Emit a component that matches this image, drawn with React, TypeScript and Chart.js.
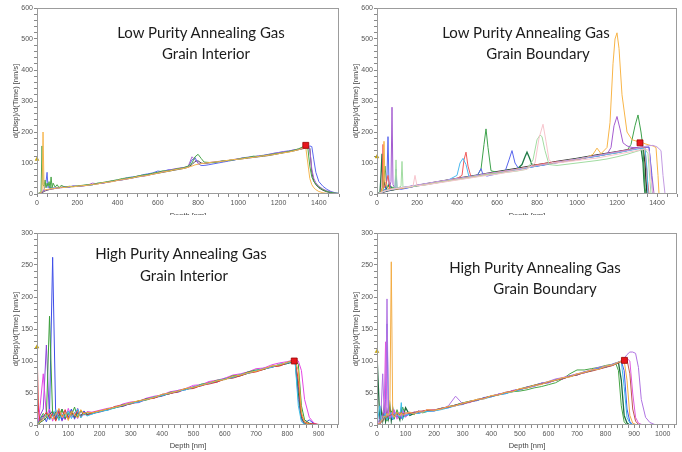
import React, { useEffect, useRef } from "react";
import { Chart, registerables } from "chart.js";

Chart.register(...registerables);

// ================= Panel 1: Low Purity Annealing Gas, Grain Interior =================
const LPGI_DEPTH = [0, 10, 20, 25, 30, 35, 40, 45, 50, 55, 60, 65, 70, 75, 80,
  90, 100, 110, 120, 140, 160, 180,
  200, 225, 250, 275, 300, 325, 350, 375, 400, 425, 450, 475, 500, 525, 550, 575, 600, 625, 650, 675, 700, 725, 750,
  770, 785, 800, 815, 830,
  850, 875, 900, 925, 950, 975, 1000, 1025, 1050, 1075, 1100, 1125, 1150, 1175, 1200, 1225, 1250, 1275, 1300,
  1320, 1335, 1345, 1355, 1365, 1375, 1385, 1400, 1420, 1440, 1460, 1480, 1500];
const LPGI_ORANGE = [0, 2, 5, 8, 200, 20, 12, 15, 14, 16, 15, 17, 16, 18, 17,
  18, 20, 19, 22, 21, 24, 23,
  25, 27, 28, 31, 32, 36, 38, 40, 44, 47, 49, 52, 56, 58, 60, 64, 67, 71, 73, 77, 80, 82, 86,
  90, 94, 96, 98, 99,
  101, 103, 104, 106, 109, 111, 112, 114, 117, 118, 121, 123, 125, 127, 130, 133, 135, 139, 143,
  147, 150, 100, 50, 30, 20, 14, 8, 4, 2, 1, 0, 0];
const LPGI_GREEN = [0, 3, 6, 155, 30, 25, 45, 20, 35, 25, 40, 18, 55, 20, 35,
  22, 30, 20, 28, 22, 25, 24,
  26, 28, 30, 30, 35, 37, 40, 43, 46, 50, 52, 54, 58, 61, 63, 67, 70, 75, 74, 78, 82, 84, 90,
  100, 120, 128, 115, 103,
  102, 101, 104, 107, 108, 110, 113, 116, 118, 122, 121, 124, 126, 129, 131, 134, 137, 141, 146,
  152, 155, 150, 90, 55, 40, 32, 22, 14, 8, 5, 3, 2];
const LPGI_BLUE = [0, 2, 4, 6, 10, 15, 25, 40, 70, 20, 25, 18, 22, 17, 20,
  19, 21, 20, 22, 24, 22, 26,
  24, 27, 29, 30, 34, 35, 39, 42, 45, 48, 53, 55, 57, 62, 65, 68, 74, 72, 78, 79, 81, 85, 87,
  110, 118, 98, 92, 92,
  94, 97, 100, 103, 106, 109, 113, 117, 119, 120, 123, 125, 128, 131, 134, 137, 139, 142, 144,
  147, 148, 150, 155, 153, 110, 70, 40, 25, 15, 8, 4, 2];
const LPGI_PURPLE = [0, 1, 3, 5, 8, 12, 10, 14, 12, 15, 14, 16, 15, 17, 16,
  18, 19, 20, 20, 22, 23, 26,
  25, 26, 28, 35, 33, 35, 38, 41, 44, 46, 49, 52, 58, 57, 60, 65, 68, 72, 76, 80, 83, 85, 88,
  120, 110, 100, 98, 99,
  101, 103, 105, 107, 108, 111, 114, 116, 118, 120, 122, 124, 127, 131, 133, 136, 138, 142, 145,
  148, 150, 152, 145, 80, 50, 36, 25, 16, 10, 6, 3, 1];
const LPGI_DARK = [0, 1, 2, 4, 6, 8, 10, 11, 12, 13, 14, 15, 15, 16, 17,
  18, 19, 20, 21, 22, 23, 24,
  25, 26, 28, 30, 33, 35, 38, 41, 44, 46, 49, 52, 55, 58, 61, 64, 67, 70, 73, 76, 79, 82, 86,
  95, 105, 107, 100, 98,
  100, 102, 104, 106, 108, 110, 112, 114, 116, 118, 120, 122, 124, 127, 130, 133, 136, 139, 143,
  146, 148, 149, 148, 70, 42, 30, 20, 12, 7, 4, 2, 1];
const LPGI_X_LABELS = [0, 200, 400, 600, 800, 1000, 1200, 1400];
const LPGI_Y_LABELS = [0, 100, 200, 300, 400, 500, 600];
const LPGI_END_MARK = [1335, 157];
const LPGI_START_MARK = [0, 112];

// ================= Panel 2: Low Purity Annealing Gas, Grain Boundary =================
const LPGB_BLACK_DEPTH = [0, 20, 40, 60, 100, 200, 300, 400, 500, 600, 700, 800, 900, 1000, 1100, 1200, 1300, 1320, 1330, 1340, 1345, 1350];
const LPGB_BLACK_RATE = [0, 4, 8, 11, 16, 28, 39, 50, 61, 72, 83, 94, 105, 115, 126, 137, 148, 150, 150, 100, 40, 0];
const LPGB_DKGREEN_DEPTH = [0, 15, 20, 25, 30, 35, 45, 60, 80, 100, 150, 200, 250, 300, 350, 400, 450, 500, 550, 600, 650, 700, 725, 740, 750, 760, 775, 800, 850, 900, 950, 1000, 1050, 1100, 1150, 1200, 1250, 1300, 1320, 1330, 1335, 1340];
const LPGB_DKGREEN_RATE = [0, 5, 60, 130, 20, 40, 15, 30, 14, 18, 22, 27, 33, 38, 44, 49, 54, 60, 63, 70, 76, 80, 95, 120, 135, 120, 95, 92, 97, 103, 108, 113, 119, 124, 130, 135, 141, 147, 149, 100, 40, 0];
const LPGB_GREEN_DEPTH = [0, 30, 40, 50, 60, 100, 150, 200, 250, 300, 350, 400, 450, 500, 520, 535, 545, 555, 570, 600, 650, 700, 750, 800, 850, 900, 950, 1000, 1050, 1100, 1150, 1200, 1250, 1270, 1290, 1305, 1320, 1330, 1335, 1340, 1345];
const LPGB_GREEN_RATE = [0, 10, 90, 20, 25, 17, 21, 26, 31, 37, 42, 48, 52, 58, 80, 160, 210, 150, 75, 70, 75, 80, 86, 91, 97, 102, 108, 112, 118, 122, 128, 133, 140, 160, 220, 255, 200, 150, 80, 20, 0];
const LPGB_ORANGE_DEPTH = [0, 20, 30, 35, 40, 50, 60, 80, 100, 150, 200, 250, 300, 350, 400, 450, 500, 550, 600, 650, 700, 750, 800, 850, 900, 950, 1000, 1050, 1080, 1100, 1120, 1150, 1165, 1180, 1190, 1200, 1210, 1225, 1250, 1275, 1300, 1320, 1340, 1360, 1380, 1395, 1405, 1410];
const LPGB_ORANGE_RATE = [0, 3, 20, 170, 40, 25, 15, 18, 16, 21, 27, 32, 37, 42, 48, 53, 58, 64, 69, 74, 80, 86, 92, 97, 102, 107, 112, 118, 128, 148, 130, 150, 230, 420, 500, 520, 470, 320, 200, 175, 170, 168, 162, 158, 155, 150, 60, 0];
const LPGB_PURPLE_DEPTH = [0, 20, 40, 60, 70, 75, 80, 90, 120, 150, 200, 250, 300, 350, 400, 450, 500, 550, 600, 650, 700, 750, 800, 850, 900, 950, 1000, 1050, 1100, 1150, 1170, 1185, 1200, 1215, 1230, 1250, 1275, 1300, 1330, 1360, 1375, 1385];
const LPGB_PURPLE_RATE = [0, 4, 10, 15, 40, 280, 30, 18, 20, 20, 26, 31, 36, 42, 47, 52, 57, 63, 68, 73, 79, 85, 90, 96, 101, 106, 111, 117, 122, 128, 150, 220, 250, 210, 165, 155, 150, 150, 152, 150, 60, 0];
const LPGB_LAVENDER_DEPTH = [0, 50, 100, 200, 300, 400, 500, 550, 600, 650, 700, 800, 900, 1000, 1100, 1200, 1250, 1300, 1350, 1380, 1400, 1420, 1430, 1440];
const LPGB_LAVENDER_RATE = [0, 12, 18, 29, 40, 50, 60, 66, 70, 75, 80, 92, 103, 113, 124, 135, 140, 147, 155, 157, 152, 140, 60, 0];
const LPGB_LTGREEN_DEPTH = [0, 30, 60, 90, 95, 100, 120, 125, 130, 160, 200, 250, 300, 350, 400, 450, 500, 550, 600, 650, 700, 750, 780, 800, 815, 825, 840, 860, 900, 950, 1000, 1050, 1100, 1150, 1200, 1250, 1300, 1340, 1355, 1365, 1370];
const LPGB_LTGREEN_RATE = [0, 8, 14, 20, 110, 18, 25, 105, 20, 22, 26, 30, 36, 41, 46, 51, 56, 62, 66, 70, 74, 80, 110, 175, 190, 185, 140, 95, 92, 96, 100, 104, 108, 113, 120, 128, 138, 145, 130, 40, 0];
const LPGB_PINK_DEPTH = [0, 40, 80, 120, 180, 190, 200, 250, 300, 350, 400, 450, 500, 550, 600, 650, 700, 750, 790, 810, 830, 845, 860, 880, 900, 950, 1000, 1050, 1100, 1150, 1200, 1250, 1300, 1340, 1360, 1370, 1380];
const LPGB_PINK_RATE = [0, 10, 16, 20, 25, 60, 26, 30, 35, 40, 45, 50, 55, 60, 64, 70, 75, 80, 100, 180, 225, 170, 110, 100, 100, 104, 108, 112, 116, 122, 128, 134, 140, 146, 140, 50, 0];
const LPGB_BLUE_DEPTH = [0, 30, 45, 50, 55, 60, 70, 90, 95, 100, 120, 150, 200, 250, 300, 350, 400, 450, 500, 510, 520, 530, 550, 600, 640, 660, 675, 690, 710, 750, 800, 850, 900, 950, 1000, 1050, 1100, 1150, 1200, 1250, 1300, 1330, 1360, 1370, 1378];
const LPGB_BLUE_RATE = [0, 8, 20, 60, 185, 30, 15, 18, 80, 20, 15, 19, 27, 32, 38, 43, 48, 52, 58, 70, 82, 62, 58, 65, 72, 110, 140, 100, 80, 85, 90, 95, 101, 106, 112, 118, 124, 130, 136, 142, 148, 150, 152, 80, 0];
const LPGB_CYAN_DEPTH = [0, 40, 80, 120, 160, 200, 250, 300, 350, 400, 415, 430, 445, 460, 500, 550, 600, 650, 700, 750, 800, 850, 900, 950, 1000, 1050, 1100, 1150, 1200, 1250, 1300, 1340, 1350, 1355];
const LPGB_CYAN_RATE = [0, 9, 15, 20, 24, 28, 33, 38, 43, 60, 100, 115, 95, 55, 58, 63, 68, 73, 78, 84, 90, 96, 101, 107, 112, 117, 122, 128, 133, 139, 145, 148, 80, 0];
const LPGB_RED_DEPTH = [0, 20, 25, 30, 35, 45, 55, 65, 100, 150, 200, 250, 300, 350, 400, 425, 435, 445, 455, 470, 500, 550, 600, 650, 700, 750, 800, 850, 900, 950, 1000, 1050, 1100, 1150, 1200, 1250, 1300, 1340, 1350, 1360];
const LPGB_RED_RATE = [0, 5, 20, 160, 20, 30, 60, 15, 18, 22, 28, 33, 39, 44, 50, 60, 110, 135, 90, 55, 58, 64, 70, 75, 80, 86, 95, 100, 104, 108, 112, 118, 124, 130, 136, 142, 147, 150, 60, 0];
const LPGB_X_LABELS = [0, 200, 400, 600, 800, 1000, 1200, 1400];
const LPGB_Y_LABELS = [0, 100, 200, 300, 400, 500, 600];
const LPGB_END_MARK = [1315, 165];
const LPGB_START_MARK = [0, 120];

// ================= Panel 3: High Purity Annealing Gas, Grain Interior =================
const HPGI_DEPTH = [0, 5, 10, 20, 30, 40, 50, 60, 70, 80, 90, 100, 110, 120, 130, 140, 150, 160,
  175, 200, 225, 250, 275, 300, 325, 350, 375, 400, 425, 450, 475, 500, 525, 550, 575, 600, 625, 650, 675, 700, 725, 750, 775, 800,
  815, 825, 835, 845, 855, 870, 885, 900];
const HPGI_BLUE = [0, 3, 8, 15, 5, 20, 262, 10, 22, 8, 18, 12, 25, 10, 20, 14, 22, 17,
  17, 22, 23, 29, 30, 35, 36, 41, 42, 48, 49, 54, 55, 60, 62, 67, 68, 73, 74, 79, 83, 84, 89, 90, 95, 96,
  99, 100, 60, 12, 3, 8, 2, 0];
const HPGI_GREEN = [0, 2, 10, 18, 12, 170, 14, 20, 9, 24, 11, 19, 15, 28, 12, 22, 16, 19,
  19, 21, 25, 27, 32, 33, 38, 39, 44, 46, 51, 52, 57, 58, 64, 65, 70, 71, 77, 78, 83, 86, 87, 92, 93, 98,
  100, 101, 95, 30, 8, 3, 1, 0];
const HPGI_PURPLE = [0, 5, 15, 25, 125, 8, 20, 12, 25, 6, 22, 10, 24, 9, 26, 13, 18, 16,
  18, 20, 24, 28, 29, 34, 35, 40, 43, 45, 50, 51, 56, 59, 61, 66, 67, 72, 75, 77, 82, 85, 88, 90, 94, 97,
  100, 98, 40, 8, 2, 0, 0, 0];
const HPGI_MAGENTA = [0, 8, 30, 80, 15, 25, 6, 22, 14, 18, 8, 26, 12, 20, 10, 23, 15, 21,
  20, 23, 26, 28, 33, 36, 37, 42, 45, 47, 52, 54, 57, 62, 63, 68, 70, 73, 78, 80, 83, 88, 89, 94, 97, 99,
  101, 102, 100, 85, 40, 12, 3, 0];
const HPGI_RED = [120, 20, 6, 12, 20, 10, 18, 6, 21, 13, 24, 9, 19, 14, 23, 12, 20, 15,
  19, 22, 24, 29, 31, 33, 37, 40, 42, 47, 49, 52, 56, 57, 62, 64, 67, 72, 73, 77, 81, 83, 87, 91, 92, 97,
  100, 100, 70, 15, 5, 2, 2, 1];
const HPGI_CYAN = [0, 3, 6, 10, 16, 8, 14, 24, 7, 17, 13, 22, 10, 19, 25, 11, 18, 14,
  17, 21, 23, 27, 31, 34, 36, 40, 44, 46, 50, 53, 55, 59, 63, 65, 69, 72, 74, 79, 81, 85, 88, 90, 95, 97,
  99, 97, 30, 5, 1, 0, 0, 0];
const HPGI_ORANGE = [0, 2, 5, 9, 14, 18, 9, 16, 26, 12, 20, 7, 22, 16, 11, 24, 17, 20,
  19, 22, 25, 28, 31, 35, 38, 40, 43, 48, 50, 53, 57, 59, 62, 66, 69, 71, 76, 78, 82, 84, 88, 92, 94, 98,
  100, 101, 85, 20, 4, 1, 0, 0];
const HPGI_DKGREEN = [0, 1, 4, 7, 11, 16, 22, 8, 15, 25, 10, 17, 21, 12, 18, 15, 19, 16,
  18, 21, 24, 27, 30, 34, 37, 41, 43, 46, 49, 53, 56, 58, 62, 65, 68, 72, 74, 77, 81, 84, 87, 91, 93, 96,
  98, 99, 50, 10, 3, 1, 0, 0];
const HPGI_X_LABELS = [0, 100, 200, 300, 400, 500, 600, 700, 800, 900];
const HPGI_Y_LABELS = [0, 50, 100, 150, 200, 250, 300];
const HPGI_END_MARK = [822, 100];
const HPGI_START_MARK = [0, 122];

// ================= Panel 4: High Purity Annealing Gas, Grain Boundary =================
const HPGB_DEPTH = [0, 10, 15, 20, 25, 30, 35, 40, 45, 50, 55, 60, 70, 80, 85, 90, 100, 115, 130, 145, 160, 175,
  200, 225, 250, 275, 300, 325, 350, 375, 400, 425, 450, 475, 500, 525, 550, 575, 600, 625, 650, 675, 700, 725, 750, 775, 800, 825,
  835, 845, 855, 865, 875, 885, 895, 905, 915, 925, 940, 955, 970, 990, 1010];
const HPGB_GREEN = [0, 3, 8, 5, 12, 18, 6, 20, 10, 22, 14, 9, 24, 12, 18, 28, 13, 20, 16, 22, 19, 21,
  24, 25, 29, 31, 35, 36, 40, 42, 45, 47, 50, 52, 53, 55, 58, 60, 63, 66, 72, 80, 86, 86, 88, 90, 93, 95,
  97, 85, 30, 5, 0, null, null, null, null, null, null, null, null, null, null];
const HPGB_DKGREEN = [110, 5, 25, 8, 28, 6, 22, 10, 30, 7, 26, 12, 20, 8, 24, 11, 27, 15, 18, 20, 21, 23,
  23, 26, 28, 31, 34, 37, 39, 42, 45, 48, 50, 53, 56, 59, 62, 65, 67, 70, 73, 76, 79, 82, 85, 88, 91, 94,
  96, 98, 70, 15, 3, 0, null, null, null, null, null, null, null, null, null];
const HPGB_CYAN = [0, 30, 5, 10, 15, 18, 8, 12, 20, 14, 9, 18, 16, 12, 35, 10, 15, 17, 19, 18, 20, 21,
  22, 24, 27, 30, 33, 36, 39, 41, 44, 47, 49, 52, 55, 58, 61, 64, 67, 70, 73, 76, 79, 82, 85, 88, 91, 94,
  96, 98, 99, 60, 12, 3, 0, null, null, null, null, null, null, null, null];
const HPGB_BLUE = [0, 2, 5, 8, 12, 40, 158, 20, 10, 16, 8, 20, 12, 18, 10, 16, 14, 17, 20, 18, 21, 22,
  22, 26, 27, 31, 32, 37, 38, 43, 44, 48, 49, 54, 55, 59, 61, 65, 66, 71, 72, 77, 78, 83, 85, 89, 90, 95,
  96, 98, 100, 85, 25, 5, 1, 0, null, null, null, null, null, null, null];
const HPGB_ORANGE = [0, 3, 6, 10, 14, 12, 18, 15, 20, 255, 16, 12, 20, 14, 19, 15, 18, 20, 17, 21, 20, 24,
  23, 25, 29, 30, 34, 37, 40, 41, 46, 47, 51, 52, 57, 58, 62, 63, 68, 70, 74, 75, 80, 82, 86, 87, 92, 94,
  96, 98, 100, 101, 70, 15, 3, 1, 0, null, null, null, null, null, null];
const HPGB_RED = [0, 2, 4, 7, 9, 11, 13, 14, 15, 16, 17, 15, 18, 16, 20, 17, 19, 18, 20, 21, 22, 23,
  23, 26, 28, 31, 33, 36, 39, 42, 45, 47, 51, 53, 56, 58, 62, 64, 67, 70, 72, 76, 78, 82, 84, 87, 90, 93,
  95, 97, 99, 101, 102, 80, 25, 6, 1, 0, null, null, null, null, null];
const HPGB_MAGENTA = [0, 4, 8, 15, 25, 130, 14, 22, 10, 18, 12, 24, 9, 20, 14, 22, 12, 20, 18, 22, 21, 24,
  24, 25, 28, 30, 34, 35, 40, 41, 45, 48, 50, 54, 55, 59, 60, 65, 66, 70, 74, 76, 80, 81, 86, 87, 91, 93,
  96, 98, 100, 102, 104, 100, 50, 12, 3, 1, 0, null, null, null, null];
const HPGB_PURPLE = [0, 10, 30, 80, 20, 15, 197, 18, 12, 20, 10, 22, 14, 19, 12, 23, 16, 18, 20, 19, 22, 21,
  22, 25, 30, 45, 33, 36, 39, 42, 45, 48, 51, 53, 56, 58, 61, 65, 68, 72, 74, 77, 80, 83, 86, 90, 92, 95,
  97, 98, 100, 104, 110, 114, 114, 112, 90, 40, 12, 4, 1, 0, null];
const HPGB_X_LABELS = [0, 100, 200, 300, 400, 500, 600, 700, 800, 900, 1000];
const HPGB_Y_LABELS = [0, 50, 100, 150, 200, 250, 300];
const HPGB_END_MARK = [866, 101];
const HPGB_START_MARK = [0, 115];

// ================= Rendering =================
const FONT = "'Liberation Sans', Arial, sans-serif";
const X_TITLE = "Depth [nm]";
const Y_TITLE = "d(Disp)/d(Time) [nm/s]";

type Line = { color: string; depth: number[]; rate: (number | null)[]; width?: number };

type PanelProps = {
  left: number; top: number; width: number; height: number; clip: number;
  padRight: number; xAxisHeight: number; xTitlePad: number;
  xMax: number; xMinor: number; xLabels: number[];
  yMax: number; yMinor: number; yLabels: number[];
  lines: Line[]; endMark: number[]; startMark: number[];
};

const framePlugin = {
  id: "frame",
  afterDraw(chart: any) {
    const { ctx, chartArea: a } = chart;
    ctx.save();
    ctx.strokeStyle = "#9c9c9c";
    ctx.lineWidth = 1;
    ctx.strokeRect(Math.round(a.left) + 0.5, Math.round(a.top) + 0.5, Math.round(a.right - a.left) - 1, Math.round(a.bottom - a.top) - 1);
    ctx.restore();
  },
};

function minorTicks(max: number, step: number) {
  const out: { value: number }[] = [];
  for (let v = 0; v <= max + 1e-9; v += step) out.push({ value: v });
  return out;
}

function Panel(p: PanelProps) {
  const ref = useRef<HTMLCanvasElement>(null);
  useEffect(() => {
    const tickFont = { family: FONT, size: 7 };
    const titleFont = { family: FONT, size: 7.5 };
    const datasets: any[] = [
      {
        data: [{ x: p.endMark[0], y: p.endMark[1] }],
        showLine: false, pointStyle: "rect", pointRadius: 4.2,
        pointBackgroundColor: "#e8161d", pointBorderColor: "#9a0000", pointBorderWidth: 0.8, clip: false,
      },
      {
        data: [{ x: p.startMark[0], y: p.startMark[1] }],
        showLine: false, pointStyle: "triangle", pointRadius: 2.2,
        pointBackgroundColor: "#d8b400", pointBorderColor: "#a88a00", pointBorderWidth: 0.5, clip: false,
      },
      ...p.lines.map((l) => ({
        data: l.depth.map((d, i) => ({ x: d, y: l.rate[i] })),
        borderColor: l.color,
        borderWidth: l.width ?? 1,
        pointRadius: 0,
        fill: false,
        tension: 0,
        spanGaps: false,
      })),
    ];
    const chart = new Chart(ref.current as HTMLCanvasElement, {
      type: "line",
      data: { datasets },
      options: {
        animation: false,
        responsive: false,
        devicePixelRatio: 1,
        events: [],
        layout: { padding: { left: 0, top: 8, right: p.padRight, bottom: 0 } },
        plugins: { legend: { display: false }, tooltip: { enabled: false } },
        scales: {
          x: {
            type: "linear",
            min: 0,
            max: p.xMax,
            afterFit: (s: any) => { s.height = p.xAxisHeight; },
            afterBuildTicks: (s: any) => { s.ticks = minorTicks(p.xMax, p.xMinor); },
            ticks: {
              autoSkip: false, maxRotation: 0, padding: 2, color: "#555", font: tickFont,
              callback: (v: any) => (p.xLabels.includes(Number(v)) ? String(v) : ""),
            },
            grid: { drawOnChartArea: false, drawTicks: true, tickLength: 3, tickColor: "#8a8a8a" },
            border: { display: false },
            title: { display: true, text: X_TITLE, color: "#444", font: titleFont, padding: { top: 0, bottom: p.xTitlePad } },
          },
          y: {
            type: "linear",
            min: 0,
            max: p.yMax,
            afterFit: (s: any) => { s.width = 37; },
            afterBuildTicks: (s: any) => { s.ticks = minorTicks(p.yMax, p.yMinor); },
            ticks: {
              autoSkip: false, padding: 1, color: "#555", font: tickFont,
              callback: (v: any) => (p.yLabels.includes(Number(v)) ? String(v) : ""),
            },
            grid: { drawOnChartArea: false, drawTicks: true, tickLength: 3, tickColor: "#8a8a8a" },
            border: { display: false },
            title: { display: true, text: Y_TITLE, color: "#444", font: titleFont, padding: { top: 11, bottom: 0 } },
          },
        },
      } as any,
      plugins: [framePlugin],
    });
    return () => chart.destroy();
  }, []);
  return (
    <div style={{ position: "absolute", left: p.left, top: p.top, width: p.width, height: p.clip, overflow: "hidden" }}>
      <canvas ref={ref} width={p.width} height={p.height} style={{ display: "block", width: p.width, height: p.height }} />
    </div>
  );
}

const HEADINGS = [
  { text: "Low Purity Annealing Gas", cx: 201, cy: 32 },
  { text: "Grain Interior", cx: 206, cy: 53 },
  { text: "Low Purity Annealing Gas", cx: 526, cy: 32 },
  { text: "Grain Boundary", cx: 538, cy: 53 },
  { text: "High Purity Annealing Gas", cx: 181, cy: 253 },
  { text: "Grain Interior", cx: 184, cy: 275 },
  { text: "High Purity Annealing Gas", cx: 535, cy: 267 },
  { text: "Grain Boundary", cx: 545, cy: 288 },
];

export default function App() {
  const lpgiLines: Line[] = [
    { color: "#f6b650", depth: LPGI_DEPTH, rate: LPGI_ORANGE },
    { color: "#48a448", depth: LPGI_DEPTH, rate: LPGI_GREEN },
    { color: "#a865cc", depth: LPGI_DEPTH, rate: LPGI_PURPLE },
    { color: "#5b69f0", depth: LPGI_DEPTH, rate: LPGI_BLUE },
    { color: "#4a4a4a", depth: LPGI_DEPTH, rate: LPGI_DARK },
  ];
  const lpgbLines: Line[] = [
    { color: "#f7c4cc", depth: LPGB_PINK_DEPTH, rate: LPGB_PINK_RATE },
    { color: "#a2dca2", depth: LPGB_LTGREEN_DEPTH, rate: LPGB_LTGREEN_RATE },
    { color: "#c39be2", depth: LPGB_LAVENDER_DEPTH, rate: LPGB_LAVENDER_RATE },
    { color: "#f8b548", depth: LPGB_ORANGE_DEPTH, rate: LPGB_ORANGE_RATE },
    { color: "#4bb9ef", depth: LPGB_CYAN_DEPTH, rate: LPGB_CYAN_RATE },
    { color: "#ef5a5a", depth: LPGB_RED_DEPTH, rate: LPGB_RED_RATE },
    { color: "#5966ee", depth: LPGB_BLUE_DEPTH, rate: LPGB_BLUE_RATE },
    { color: "#a45dd0", depth: LPGB_PURPLE_DEPTH, rate: LPGB_PURPLE_RATE },
    { color: "#3ea24c", depth: LPGB_GREEN_DEPTH, rate: LPGB_GREEN_RATE },
    { color: "#1f7a46", depth: LPGB_DKGREEN_DEPTH, rate: LPGB_DKGREEN_RATE, width: 1.3 },
    { color: "#333333", depth: LPGB_BLACK_DEPTH, rate: LPGB_BLACK_RATE, width: 1.3 },
  ];
  const hpgiLines: Line[] = [
    { color: "#f2a83a", depth: HPGI_DEPTH, rate: HPGI_ORANGE },
    { color: "#3cc2e6", depth: HPGI_DEPTH, rate: HPGI_CYAN },
    { color: "#e23a3a", depth: HPGI_DEPTH, rate: HPGI_RED },
    { color: "#3a9e3a", depth: HPGI_DEPTH, rate: HPGI_GREEN },
    { color: "#247444", depth: HPGI_DEPTH, rate: HPGI_DKGREEN },
    { color: "#e446e4", depth: HPGI_DEPTH, rate: HPGI_MAGENTA },
    { color: "#3f4fe8", depth: HPGI_DEPTH, rate: HPGI_BLUE },
    { color: "#8e44da", depth: HPGI_DEPTH, rate: HPGI_PURPLE },
  ];
  const hpgbLines: Line[] = [
    { color: "#f3ad45", depth: HPGB_DEPTH, rate: HPGB_ORANGE },
    { color: "#c05550", depth: HPGB_DEPTH, rate: HPGB_RED },
    { color: "#3abde8", depth: HPGB_DEPTH, rate: HPGB_CYAN },
    { color: "#e058e0", depth: HPGB_DEPTH, rate: HPGB_MAGENTA },
    { color: "#b073e2", depth: HPGB_DEPTH, rate: HPGB_PURPLE },
    { color: "#4252e6", depth: HPGB_DEPTH, rate: HPGB_BLUE },
    { color: "#46a646", depth: HPGB_DEPTH, rate: HPGB_GREEN },
    { color: "#1f6b3f", depth: HPGB_DEPTH, rate: HPGB_DKGREEN, width: 1.3 },
  ];
  return (
    <div style={{ position: "fixed", left: 0, top: 0, width: 682, height: 452, background: "#ffffff", overflow: "hidden" }}>
      <Panel left={0} top={0} width={344} height={225} clip={215} padRight={1} xAxisHeight={31} xTitlePad={5}
        xMax={1500} xMinor={50} xLabels={LPGI_X_LABELS} yMax={600} yMinor={20} yLabels={LPGI_Y_LABELS}
        lines={lpgiLines} endMark={LPGI_END_MARK} startMark={LPGI_START_MARK} />
      <Panel left={340} top={0} width={342} height={225} clip={215} padRight={0} xAxisHeight={31} xTitlePad={5}
        xMax={1500} xMinor={50} xLabels={LPGB_X_LABELS} yMax={600} yMinor={20} yLabels={LPGB_Y_LABELS}
        lines={lpgbLines} endMark={LPGB_END_MARK} startMark={LPGB_START_MARK} />
      <Panel left={0} top={225} width={344} height={227} clip={227} padRight={1} xAxisHeight={27} xTitlePad={2}
        xMax={965} xMinor={20} xLabels={HPGI_X_LABELS} yMax={300} yMinor={10} yLabels={HPGI_Y_LABELS}
        lines={hpgiLines} endMark={HPGI_END_MARK} startMark={HPGI_START_MARK} />
      <Panel left={340} top={225} width={342} height={227} clip={227} padRight={0} xAxisHeight={27} xTitlePad={2}
        xMax={1050} xMinor={20} xLabels={HPGB_X_LABELS} yMax={300} yMinor={10} yLabels={HPGB_Y_LABELS}
        lines={hpgbLines} endMark={HPGB_END_MARK} startMark={HPGB_START_MARK} />
      {HEADINGS.map((h, i) => (
        <div key={i} style={{
          position: "absolute", left: h.cx - 150, top: h.cy - 10, width: 300, height: 20, lineHeight: "20px",
          textAlign: "center", fontFamily: "Lato, 'Open Sans', sans-serif", fontSize: 15, color: "#1c1c1c", whiteSpace: "nowrap",
        }}>{h.text}</div>
      ))}
    </div>
  );
}
